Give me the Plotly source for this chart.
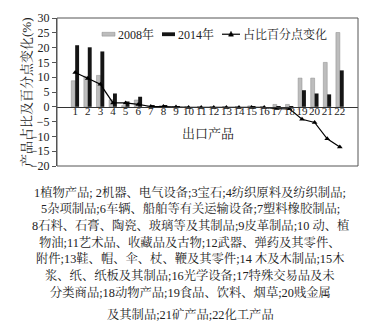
import plotly.graph_objects as go

categories = [str(i) for i in range(1, 23)]
share_2008 = [8.8, 10.3, 10.6, 2.4, 0.4, 2.3, 0.2, 0.4, 0.1, 0.1, 0.1, 0.1, 0.1, 0.1, 0.3, 0.1, 0.8, 0.8, 9.7, 9.7, 15.0, 25.1]
share_2014 = [20.8, 20.1, 18.7, 4.5, 1.8, 3.4, 0.6, 0.6, 0.1, 0.0, 0.0, 0.0, 0.0, 0.0, 0.1, 0.0, 0.2, 0.2, 5.6, 4.5, 4.2, 12.3]
change_pp = [11.6, 9.6, 7.6, 1.3, 1.3, 0.8, 0.1, 0.1, -0.1, -0.2, -0.2, -0.2, -0.2, -0.2, -0.2, -0.2, -0.6, -0.7, -4.2, -5.3, -10.8, -13.6]
series_names = ["2008年", "2014年", "占比百分点变化"]

notes = [
    "1植物产品; 2机器、电气设备;3宝石;4纺织原料及纺织制品;",
    "5杂项制品;6车辆、船舶等有关运输设备;7塑料橡胶制品;",
    "8石料、石膏、陶瓷、玻璃等及其制品;9皮革制品;10 动、植",
    "物油;11艺术品、收藏品及古物;12武器、弹药及其零件、",
    "附件;13鞋、帽、伞、杖、鞭及其零件;14 木及木制品;15木",
    "浆、纸、纸板及其制品;16光学设备;17特殊交易品及未",
    "分类商品;18动物产品;19食品、饮料、烟草;20贱金属",
    "及其制品;21矿产品;22化工产品",
]
note_y_px = [194, 211, 228, 246, 263, 281, 298, 321]

FONT = "Liberation Serif, Noto Serif CJK SC, Noto Sans CJK SC, serif"
W, H = 370, 336
L, R, T, B = 57, 12, 11, 170
plot_w = W - L - R
plot_h = H - T - B

def px_x(px):
    return (px - L) / plot_w

def px_y(py):
    return (H - B - py) / plot_h

fig = go.Figure()
fig.add_trace(go.Bar(x=categories, y=share_2008, name=series_names[0],
                     marker=dict(color="#bdbdbd", line=dict(color="#8a8a8a", width=0.5))))
fig.add_trace(go.Bar(x=categories, y=share_2014, name=series_names[1],
                     marker=dict(color="#151515", line=dict(width=0))))
fig.add_trace(go.Scatter(x=categories, y=change_pp, name=series_names[2], mode="lines+markers",
                         line=dict(color="black", width=1.2),
                         marker=dict(symbol="triangle-up", size=5, color="black")))

annotations = [
    dict(text="出口产品", xref="paper", yref="paper", x=0.5,
         y=px_y(132), yanchor="middle", showarrow=False,
         font=dict(family=FONT, size=13, color="#222")),
    dict(text="产品占比及百分点变化(%)", xref="paper", yref="paper",
         x=px_x(26), y=0.5, xanchor="center", yanchor="middle",
         textangle=-90, showarrow=False,
         font=dict(family=FONT, size=13, color="#222")),
]
for txt, ypx in zip(notes, note_y_px):
    annotations.append(dict(text=txt, xref="paper", yref="paper",
                            x=px_x(190), y=px_y(ypx),
                            xanchor="center", yanchor="middle", showarrow=False,
                            font=dict(family=FONT, size=12.3, color="#222")))

# manual legend
leg_y = 28
shapes = [dict(type="rect", xref="paper", yref="paper", x0=0, x1=1, y0=0, y1=1,
               line=dict(color="#555", width=1), layer="above"),
          dict(type="rect", xref="paper", yref="paper", x0=px_x(102), x1=px_x(115),
               y0=px_y(leg_y + 2), y1=px_y(leg_y - 2), fillcolor="#bdbdbd",
               line=dict(color="#8a8a8a", width=0.5)),
          dict(type="rect", xref="paper", yref="paper", x0=px_x(162), x1=px_x(175),
               y0=px_y(leg_y + 2), y1=px_y(leg_y - 2), fillcolor="#151515",
               line=dict(width=0)),
          dict(type="line", xref="paper", yref="paper", x0=px_x(222), x1=px_x(240),
               y0=px_y(leg_y), y1=px_y(leg_y), line=dict(color="black", width=1.2)),
          dict(type="path", xref="paper", yref="paper",
               path=f"M {px_x(228.5)} {px_y(leg_y + 2)} L {px_x(233.5)} {px_y(leg_y + 2)} L {px_x(231)} {px_y(leg_y - 3)} Z",
               fillcolor="black", line=dict(color="black", width=0.5))]
for name, xpx in zip(series_names, [116, 176, 241]):
    annotations.append(dict(text=name, xref="paper", yref="paper", x=px_x(xpx), y=px_y(leg_y),
                            xanchor="left", yanchor="middle", showarrow=False,
                            font=dict(family=FONT, size=12, color="#222")))

fig.update_layout(
    width=W, height=H,
    margin=dict(l=L, r=R, t=T, b=B),
    paper_bgcolor="white", plot_bgcolor="white",
    barmode="group", bargap=0.38, bargroupgap=0,
    font=dict(family=FONT, size=12, color="#222"),
    showlegend=False,
    annotations=annotations,
    shapes=shapes,
    xaxis=dict(type="category", anchor="free", position=0.4, showline=True,
               linecolor="#333", linewidth=1, ticks="", showgrid=False,
               tickmode="linear", dtick=1, tick0=0, ticklabelstandoff=-6,
               tickfont=dict(family=FONT, size=11), tickangle=0),
    yaxis=dict(range=[-20, 30], dtick=5, showgrid=False, zeroline=False,
               ticks="outside", ticklen=4, tickcolor="#555",
               showline=True, linecolor="#555",
               tickfont=dict(family=FONT, size=12)),
)

fig.write_html("out.html")
